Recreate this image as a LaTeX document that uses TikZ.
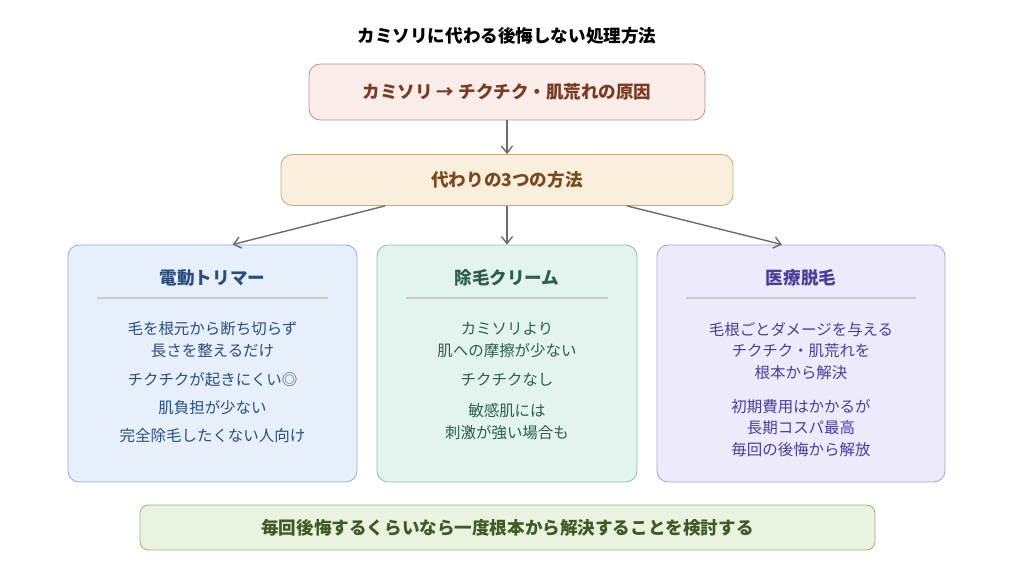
\documentclass[tikz,border=0pt]{standalone}
\usepackage{fontspec}
\setmainfont{Noto Sans CJK JP}
\usetikzlibrary{arrows.meta, positioning, calc}
\definecolor{causefill}{HTML}{F9ECE9}
\definecolor{causeline}{HTML}{C9917F}
\definecolor{causetext}{HTML}{7A3B25}
\definecolor{wayfill}{HTML}{FAEEDC}
\definecolor{wayline}{HTML}{C8A87A}
\definecolor{waytext}{HTML}{7A4A1F}
\definecolor{trimfill}{HTML}{E6EFFA}
\definecolor{trimline}{HTML}{8FAEDB}
\definecolor{trimtext}{HTML}{2B4D80}
\definecolor{creamfill}{HTML}{E3F4EE}
\definecolor{creamline}{HTML}{8DC1A8}
\definecolor{creamtext}{HTML}{2D5E47}
\definecolor{medfill}{HTML}{ECEAFB}
\definecolor{medline}{HTML}{A9A2DE}
\definecolor{medtext}{HTML}{4A3F9A}
\definecolor{tipfill}{HTML}{EAF2E0}
\definecolor{tipline}{HTML}{9BB57F}
\definecolor{tiptext}{HTML}{3E5A25}

\begin{document}
\begin{tikzpicture}[x=0.025cm, y=-0.025cm,
    box/.style={rectangle, rounded corners=8pt, draw, line width=0.6pt, inner sep=0pt},
    txt/.style={font=\fontsize{11}{15.5}\selectfont, align=center, inner sep=0pt},
    head/.style={font=\fontsize{12.5}{15}\selectfont\bfseries, inner sep=0pt},
    arr/.style={-{Straight Barb[length=5pt, width=8pt]}, draw=gray!85!black, line width=1pt}]
    \useasboundingbox (0,0) rectangle (1024,576);

    % Title
    \node[font=\fontsize{12.5}{15}\selectfont\bfseries] (title) at (507,36) {カミソリに代わる後悔しない処理方法};

    % Cause and ways
    \node[box, fill=causefill, draw=causeline, text=causetext, head, minimum width=396*0.025cm, minimum height=56*0.025cm] (cause) at (507,92) {カミソリ → チクチク・肌荒れの原因};
    \node[box, fill=wayfill, draw=wayline, text=waytext, head, minimum width=452*0.025cm, minimum height=51*0.025cm] (ways) at (507,180) {代わりの3つの方法};

    % Three methods
    \node[box, fill=trimfill, draw=trimline, minimum width=289*0.025cm, minimum height=237*0.025cm] (trim) at (212.5,363.5) {};
    \node[box, fill=creamfill, draw=creamline, minimum width=260*0.025cm, minimum height=237*0.025cm] (cream) at (507,363.5) {};
    \node[box, fill=medfill, draw=medline, minimum width=288*0.025cm, minimum height=237*0.025cm] (med) at (801,363.5) {};

    \node[head, text=trimtext] (trimhead) at (212.5,278) {電動トリマー};
    \draw[gray!40, line width=0.8pt] (97,298) -- (328,298);
    \node[txt, text=trimtext] (trim1) at (212.5,340) {毛を根元から断ち切らず\\長さを整えるだけ};
    \node[txt, text=trimtext] (trim2) at (212.5,380) {チクチクが起きにくい◎};
    \node[txt, text=trimtext] (trim3) at (212.5,408) {肌負担が少ない};
    \node[txt, text=trimtext] (trim4) at (212.5,436) {完全除毛したくない人向け};

    \node[head, text=creamtext] (creamhead) at (507,278) {除毛クリーム};
    \draw[gray!40, line width=0.8pt] (406,298) -- (608,298);
    \node[txt, text=creamtext] (cream1) at (507,340) {カミソリより\\肌への摩擦が少ない};
    \node[txt, text=creamtext] (cream2) at (507,380) {チクチクなし};
    \node[txt, text=creamtext] (cream3) at (507,422) {敏感肌には\\刺激が強い場合も};

    \node[head, text=medtext] (medhead) at (801,278) {医療脱毛};
    \draw[gray!40, line width=0.8pt] (686,298) -- (916,298);
    \node[txt, text=medtext] (med1) at (801,351) {毛根ごとダメージを与える\\チクチク・肌荒れを\\根本から解決};
    \node[txt, text=medtext] (med2) at (801,428) {初期費用はかかるが\\長期コスパ最高\\毎回の後悔から解放};

    % Advice
    \node[box, rounded corners=6pt, fill=tipfill, draw=tipline, text=tiptext, head, minimum width=735*0.025cm, minimum height=45*0.025cm] (tip) at (507.5,527.5) {毎回後悔するくらいなら一度根本から解決することを検討する};

    % Arrows
    \draw[arr] (cause) -- (ways);
    \draw[arr] ($(ways.south)+(-122,0)$) -- ($(trim.north)+(20,0)$);
    \draw[arr] (ways) -- (cream);
    \draw[arr] ($(ways.south)+(120,0)$) -- ($(med.north)+(-19,0)$);
\end{tikzpicture}
\end{document}
